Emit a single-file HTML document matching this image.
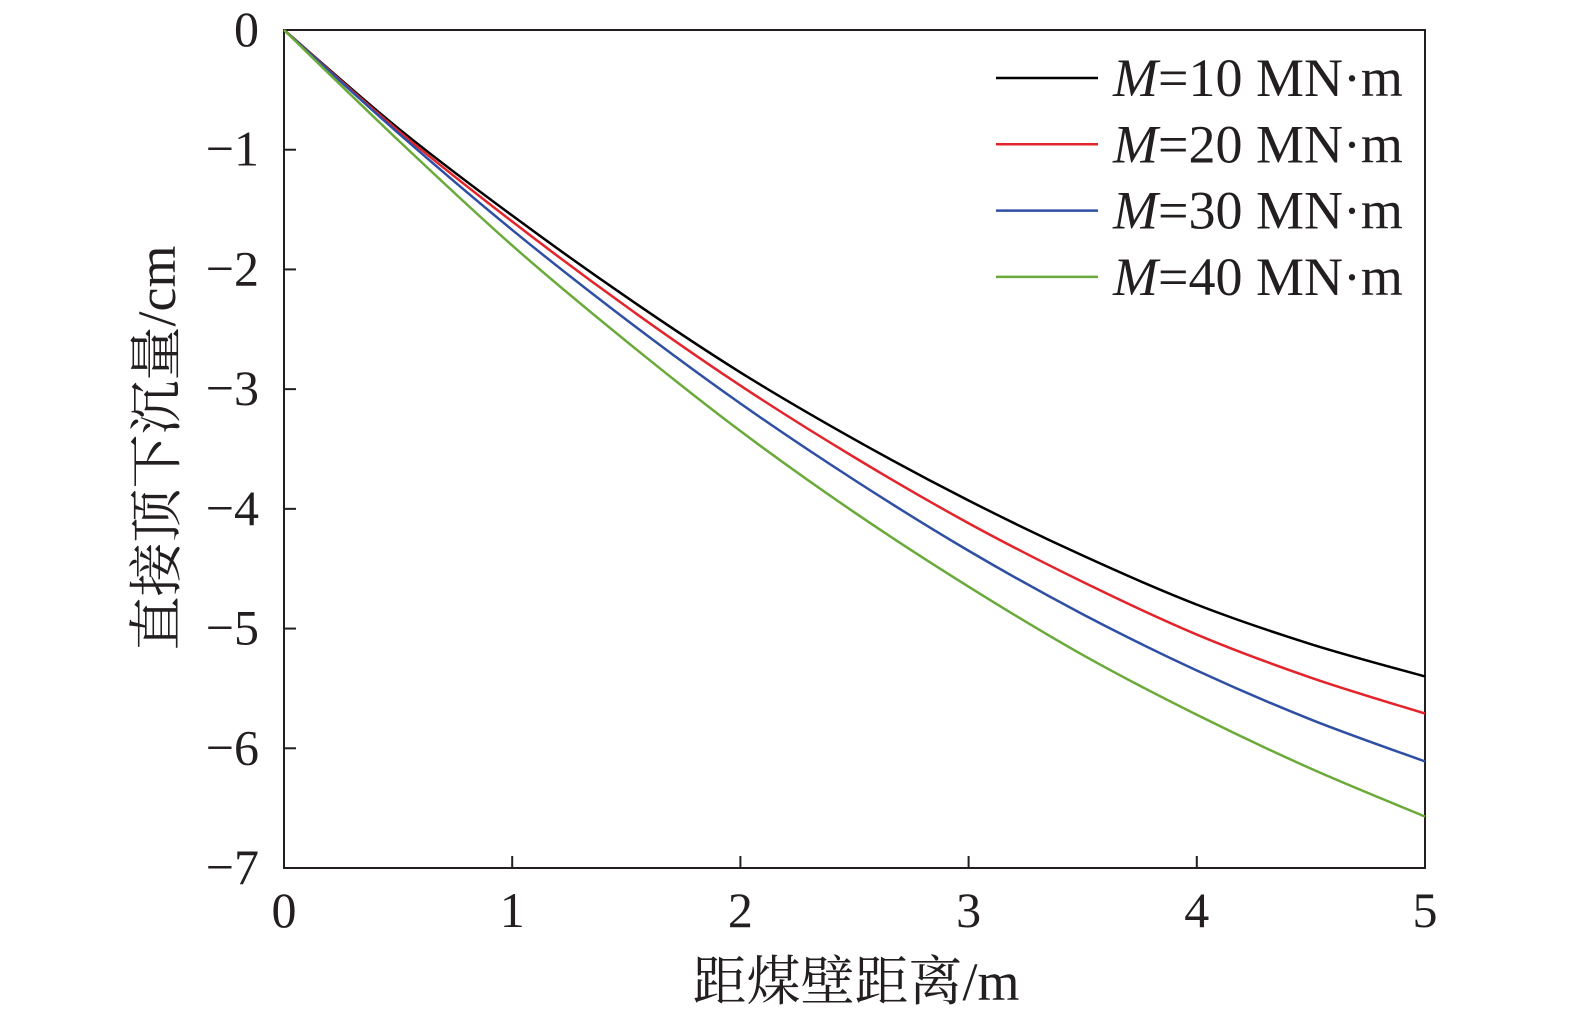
<!DOCTYPE html>
<html><head><meta charset="utf-8"><style>
html,body{margin:0;padding:0;background:#fff}
svg{display:block}
text{font-family:"Liberation Serif","Noto Serif CJK SC",serif;fill:#231f20}
</style></head><body>
<svg id="chart" width="1575" height="1019" viewBox="0 0 1575 1019">
<g id="axes"></g>
<g id="series"></g>
<g id="legend"></g>
<text x="856" y="1000" font-size="54" text-anchor="middle">距煤壁距离/m</text>
<text transform="translate(175,448) rotate(-90)" font-size="54" text-anchor="middle">直接顶下沉量/cm</text>
</svg>
<script>
const xs=[0,0.5,1,1.5,2,2.5,3,3.5,4,4.5,5];
const s10=[0,-0.82,-1.55,-2.23,-2.86,-3.42,-3.93,-4.39,-4.8,-5.13,-5.4];
const s20=[0,-0.84,-1.6,-2.31,-2.97,-3.57,-4.12,-4.61,-5.05,-5.41,-5.71];
const s30=[0,-0.86,-1.67,-2.42,-3.12,-3.76,-4.35,-4.88,-5.35,-5.76,-6.11];
const s40=[0,-0.92,-1.8,-2.6,-3.35,-4.03,-4.65,-5.22,-5.72,-6.17,-6.57];
const xTicks=[0,1,2,3,4,5];
const yTicks=[0,-1,-2,-3,-4,-5,-6,-7];
const names=["M=10 MN·m","M=20 MN·m","M=30 MN·m","M=40 MN·m"];
const colors=["#000000","#e3242b","#2e4fa3","#6aaa3a"];
const X0=284,X1=1425,Y0=30,Y1=868;
const sx=v=>X0+(v-0)/(5-0)*(X1-X0);
const sy=v=>Y0+(0-v)/(0-(-7))*(Y1-Y0);
const NS="http://www.w3.org/2000/svg";
function mk(tag,attrs,parent){const e=document.createElementNS(NS,tag);for(const k in attrs)e.setAttribute(k,attrs[k]);parent.appendChild(e);return e;}
const ax=document.getElementById('axes');
const frame=mk('rect',{x:X0,y:Y0,width:X1-X0,height:Y1-Y0,fill:'none',stroke:'#231f20','stroke-width':2},ax);


xTicks.forEach(t=>{
 const l=mk('line',{x1:sx(t),x2:sx(t),y1:Y1,y2:Y1-12,stroke:'#231f20','stroke-width':2},ax);
 
 
 const tx=mk('text',{x:sx(t),y:927,'font-size':50,'text-anchor':'middle'},ax);
 tx.textContent=t;
 
 
});
yTicks.forEach(t=>{
 const l=mk('line',{x1:X0,x2:X0+12,y1:sy(t),y2:sy(t),stroke:'#231f20','stroke-width':2},ax);
 
 
 const tx=mk('text',{x:259,y:sy(t)+16,'font-size':50,'text-anchor':'end'},ax);
 tx.textContent=t===0?'0':'−'+(-t);
 
 
});
function smooth(pts){let d=`M${pts[0][0]},${pts[0][1]}`;for(let i=0;i<pts.length-1;i++){const p0=pts[i-1]||pts[i],p1=pts[i],p2=pts[i+1],p3=pts[i+2]||p2;
 d+=` C${p1[0]+(p2[0]-p0[0])/6},${p1[1]+(p2[1]-p0[1])/6} ${p2[0]-(p3[0]-p1[0])/6},${p2[1]-(p3[1]-p1[1])/6} ${p2[0]},${p2[1]}`;}return d;}
const sg=document.getElementById('series');
[s10,s20,s30,s40].forEach((s,i)=>{
 const p=mk('path',{d:smooth(xs.map((x,j)=>[sx(x),sy(s[j])])),fill:'none',stroke:colors[i],'stroke-width':2.5},sg);
 
 
});
const lg=document.getElementById('legend');
names.forEach((n,i)=>{
 const y=78+i*66.3;
 const l=mk('line',{x1:996,x2:1098,y1:y,y2:y,stroke:colors[i],'stroke-width':2.5},lg);
 
 
 const t=mk('text',{x:1113,y:y+18,'font-size':54},lg);
 t.innerHTML='<tspan font-style="italic">M</tspan>'+n.slice(1);
 
 
});
</script>
</body></html>
